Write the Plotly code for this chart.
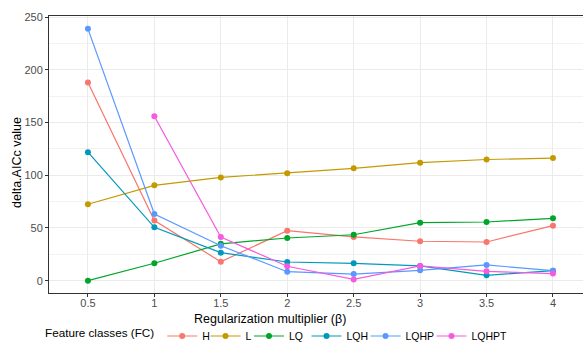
import plotly.graph_objects as go

beta = [0.5, 1, 1.5, 2, 2.5, 3, 3.5, 4]
x_ticks = [0.5, 1, 1.5, 2, 2.5, 3, 3.5, 4]
x_tick_labels = ["0.5", "1", "1.5", "2", "2.5", "3", "3.5", "4"]

H = [188, 57, 18, 47.4, 41.5, 37.4, 36.7, 52.2]
L = [72.5, 90.5, 98, 102, 106.6, 112, 115, 116.4]
LQ = [0, 16.5, 35, 40.5, 43.6, 55, 55.7, 59.2]
LQH = [122, 50.6, 26.6, 17.7, 16.5, 14, 5.1, 9.5]
LQHP = [239, 63.3, 33.2, 8.5, 6.3, 9.8, 14.9, 9.5]
LQHPT = [None, 156, 41.5, 13.7, 1.2, 14, 8.9, 6.7]

series_names = ["H", "L", "LQ", "LQH", "LQHP", "LQHPT"]
series_values = [H, L, LQ, LQH, LQHP, LQHPT]
colors = ["#F8766D", "#C49A00", "#00A62A", "#0099BC", "#5A98FF", "#F55ADF"]

W, Hh = 583, 342
ML, MR, MT, MB = 49, 0, 16, 49
pw = W - ML - MR
ph = Hh - MT - MB

def px_x(x):
    return (x - ML) / pw

def px_y(y):
    return (Hh - MB - y) / ph

legend_ids = ["legend", "legend2", "legend3", "legend4", "legend5", "legend6"]
# left pixel of each one-item legend box
legend_left = [43, 205.5, 249, 306.5, 365.5, 431.5]

fig = go.Figure()
for name, vals, c, lid in zip(series_names, series_values, colors, legend_ids):
    fig.add_trace(go.Scatter(
        x=beta, y=vals, name=name, mode="lines+markers",
        line=dict(color=c, width=1.2),
        marker=dict(color=c, size=6),
        legend=lid,
    ))

font_fam = "Liberation Sans, Arial, sans-serif"
legend_common = dict(
    orientation="h", xref="container", yref="container",
    xanchor="left", y=1 - 336 / Hh, yanchor="middle",
    font=dict(size=10.5, color="black"), bgcolor="rgba(0,0,0,0)",
    itemwidth=30, tracegroupgap=0,
)
layout_legends = {}
for i, lid in enumerate(legend_ids):
    d = dict(legend_common)
    d["x"] = legend_left[i] / W
    if i == 0:
        d["title"] = dict(text="Feature classes (FC)", font=dict(size=11.7, color="black"))
    layout_legends[lid] = d

fig.update_layout(
    width=W, height=Hh,
    margin=dict(l=ML, r=MR, t=MT, b=MB, autoexpand=False),
    paper_bgcolor="white", plot_bgcolor="white",
    font=dict(family=font_fam, color="#4D4D4D", size=11),
    showlegend=True,
    xaxis=dict(
        range=[0.207, 4.226], tickvals=x_ticks, ticktext=x_tick_labels,
        showgrid=True, gridcolor="#EBEBEB", gridwidth=1,
        showline=True, linecolor="#333333", linewidth=1, mirror=True,
        ticks="outside", ticklen=3, tickcolor="#333333",
        ticklabelstandoff=-3,
        zeroline=False, tickfont=dict(size=11, color="#4D4D4D"),
    ),
    yaxis=dict(
        range=[-11.7, 251.2], tickvals=[0, 50, 100, 150, 200, 250],
        showgrid=True, gridcolor="#EBEBEB", gridwidth=1.2,
        minor=dict(tickvals=[25, 75, 125, 175, 225], showgrid=True, gridcolor="#F2F2F2", gridwidth=0.8),
        showline=True, linecolor="#333333", linewidth=1,
        ticks="outside", ticklen=3, tickcolor="#333333",
        zeroline=False, tickfont=dict(size=11, color="#4D4D4D"),
    ),
    annotations=[
        dict(text="Regularization multiplier (β)", x=px_x(270), y=px_y(319),
             xref="paper", yref="paper", xanchor="center", yanchor="middle",
             showarrow=False, font=dict(size=12.5, color="black")),
        dict(text="delta.AICc value", x=px_x(17), y=px_y(163), textangle=-90,
             xref="paper", yref="paper", xanchor="center", yanchor="middle",
             showarrow=False, font=dict(size=12.5, color="black")),
    ],
    **layout_legends,
)

fig.write_html("out.html", config={"displayModeBar": False},
               post_script="document.body.style.margin='0';")
